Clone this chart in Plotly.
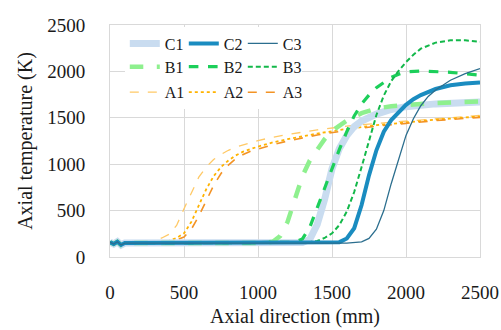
import plotly.graph_objects as go

# Axial positions (mm) and temperatures (K)
x_A = [0, 25, 50, 75, 100, 200, 300, 350, 400, 450, 500, 550, 600, 650, 700, 750, 800, 850, 900, 950, 1000,
       1100, 1200, 1400, 1600, 1800, 2000, 2200, 2500]
A1 = [160, 140, 165, 130, 150, 155, 180, 205, 245, 340, 520, 700, 860, 970, 1050, 1105, 1150, 1185, 1210, 1235, 1255,
      1290, 1320, 1370, 1410, 1440, 1465, 1490, 1525]
A2 = [160, 140, 165, 130, 150, 150, 152, 160, 175, 205, 255, 380, 560, 730, 870, 970, 1040, 1095, 1135, 1165, 1190,
      1235, 1270, 1330, 1380, 1420, 1450, 1480, 1515]
A3 = [160, 140, 165, 130, 150, 150, 150, 155, 165, 185, 215, 300, 440, 610, 770, 900, 990, 1060, 1105, 1140, 1165,
      1210, 1250, 1315, 1365, 1410, 1440, 1470, 1505]

x_B1 = [0, 25, 50, 75, 100, 500, 1000, 1050, 1100, 1150, 1200, 1250, 1300, 1350, 1400, 1450, 1500, 1550, 1600,
        1700, 1800, 1900, 2000, 2200, 2500]
B1 = [160, 140, 165, 130, 150, 150, 150, 152, 165, 225, 380, 620, 870, 1040, 1160, 1270, 1360, 1420, 1470,
      1550, 1600, 1625, 1640, 1660, 1675]

x_B2 = [0, 25, 50, 75, 100, 500, 1000, 1250, 1300, 1350, 1400, 1450, 1500, 1550, 1600, 1650, 1700, 1750, 1800,
        1850, 1900, 1950, 2000, 2100, 2200, 2300, 2400, 2500]
B2 = [160, 140, 165, 130, 150, 150, 150, 158, 195, 320, 530, 740, 960, 1160, 1350, 1520, 1650, 1745, 1825,
      1885, 1935, 1970, 1995, 2005, 2000, 1990, 1975, 1960]

x_B3 = [0, 25, 50, 75, 100, 500, 1000, 1300, 1400, 1450, 1500, 1550, 1600, 1650, 1700, 1750, 1800, 1850, 1900,
        1950, 2000, 2050, 2100, 2200, 2300, 2400, 2500]
B3 = [160, 140, 165, 130, 150, 150, 150, 150, 172, 205, 255, 345, 490, 700, 970, 1250, 1530, 1740, 1895,
      2005, 2100, 2180, 2245, 2310, 2335, 2335, 2320]

x_C1 = [0, 25, 50, 75, 100, 500, 1000, 1300, 1350, 1400, 1450, 1500, 1550, 1600, 1650, 1700, 1800, 1900, 2000,
        2200, 2500]
C1 = [160, 140, 165, 130, 150, 150, 150, 155, 190, 350, 620, 950, 1170, 1310, 1405, 1465, 1540, 1590, 1620,
      1650, 1670]

x_C2 = [0, 25, 50, 75, 100, 500, 1000, 1500, 1550, 1600, 1650, 1700, 1750, 1800, 1850, 1900, 1950, 2000, 2050,
        2100, 2200, 2300, 2400, 2500]
C2 = [160, 140, 165, 130, 150, 150, 150, 152, 160, 200, 310, 560, 880, 1150, 1350, 1475, 1565, 1640, 1700,
      1745, 1810, 1850, 1870, 1880]

x_C3 = [0, 25, 50, 75, 100, 500, 1000, 1600, 1700, 1750, 1800, 1850, 1900, 1950, 2000, 2050, 2100, 2150, 2200,
        2300, 2400, 2500]
C3 = [160, 140, 165, 130, 150, 150, 150, 150, 163, 200, 300, 500, 790, 1060, 1310, 1490, 1630, 1730, 1800,
      1905, 1975, 2030]

tick_vals = [0, 500, 1000, 1500, 2000, 2500]

FONT = "serif"

series = [
    ("A1", x_A, A1, dict(color="#ffc966", width=1.3, dash="dash"), "legend3"),
    ("A2", x_A, A2, dict(color="#ffb300", width=1.8, dash="dot"), "legend3"),
    ("A3", x_A, A3, dict(color="#f39325", width=1.6, dash="dash"), "legend3"),
    ("C1", x_C1, C1, dict(color="#c9dcf0", width=7), "legend"),
    ("B1", x_B1, B1, dict(color="#8ef08e", width=4.5, dash="dash"), "legend2"),
    ("B2", x_B2, B2, dict(color="#1ccf5a", width=3.2, dash="dash"), "legend2"),
    ("B3", x_B3, B3, dict(color="#13b84a", width=2, dash="5px,3px"), "legend2"),
    ("C2", x_C2, C2, dict(color="#1a8cc0", width=4), "legend"),
    ("C3", x_C3, C3, dict(color="#2b6e8e", width=1.3), "legend"),
]

fig = go.Figure()
order = {"C1": 1, "C2": 2, "C3": 3, "B1": 1, "B2": 2, "B3": 3, "A1": 1, "A2": 2, "A3": 3}
for name, xs, ys, line, lg in series:
    fig.add_trace(go.Scatter(
        x=xs, y=ys, name=name, mode="lines",
        line=dict(shape="linear", **line),
        legend=lg, legendrank=order[name],
    ))

axis_common = dict(
    showgrid=True, gridcolor="#d9d9d9", gridwidth=1,
    showline=True, linecolor="#d9d9d9", linewidth=1, mirror=True,
    zeroline=False, automargin=False,
    tickfont=dict(family=FONT, size=19, color="#1a1a1a"),
    ticks="outside", tickcolor="rgba(0,0,0,0)",
)

fig.update_layout(
    width=501, height=330,
    margin=dict(l=110, r=21, t=25, b=73),
    paper_bgcolor="white", plot_bgcolor="white",
    font=dict(family=FONT, color="#1a1a1a"),
    xaxis=dict(range=[0, 2500], tickvals=tick_vals, ticklen=18,
               title=dict(text="Axial direction (mm)", font=dict(family=FONT, size=20), standoff=7),
               **axis_common),
    yaxis=dict(range=[0, 2500], tickvals=tick_vals, ticklen=20,
               title=dict(text="Axial temperature (K)", font=dict(family=FONT, size=20), standoff=9),
               **axis_common),
    showlegend=True,
)

leg_common = dict(orientation="h", xanchor="left", yanchor="middle",
                  bgcolor="white", borderwidth=0,
                  font=dict(family=FONT, size=16, color="#1a1a1a"),
                  entrywidth=14, entrywidthmode="pixels",
                  itemwidth=30, traceorder="normal", tracegroupgap=0)
fig.update_layout(
    legend=dict(x=0.04, y=0.92, **leg_common),
    legend2=dict(x=0.04, y=0.82, **leg_common),
    legend3=dict(x=0.04, y=0.71, **leg_common),
)

fig.write_html("out.html")
